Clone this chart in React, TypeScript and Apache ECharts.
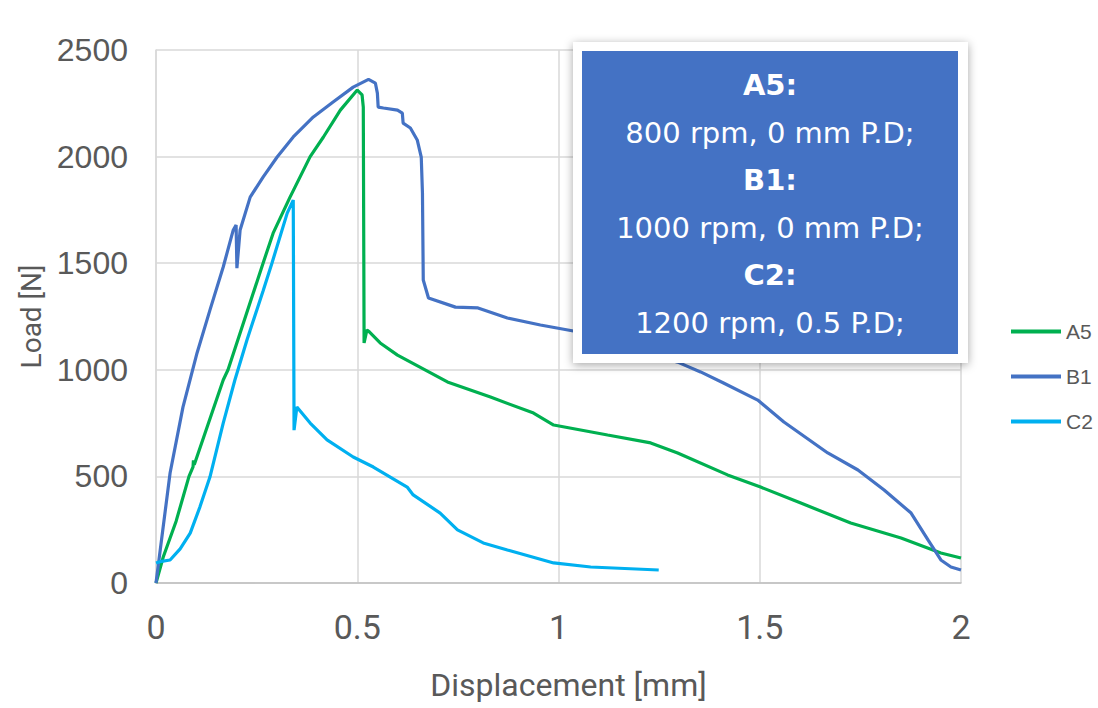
import React, { useEffect, useRef } from "react";
import * as echarts from "echarts";

const seriesNames = ["A5", "B1", "C2"];
const seriesColors = ["#00B050", "#4472C4", "#00B0F0"];

const a5Data: number[][] = [
  [0, 0], [0.018, 122], [0.05, 290], [0.082, 500], [0.092, 545], [0.093, 575], [0.095, 555],
  [0.167, 952], [0.179, 1000], [0.266, 1500], [0.291, 1641], [0.333, 1810], [0.383, 2000],
  [0.416, 2092], [0.458, 2218], [0.5, 2312], [0.512, 2289], [0.515, 2232], [0.517, 1126],
  [0.524, 1187], [0.53, 1178], [0.557, 1126], [0.6, 1069], [0.724, 943], [0.831, 872],
  [0.938, 797], [0.988, 741], [1.122, 694], [1.229, 657], [1.296, 610], [1.42, 507],
  [1.502, 450], [1.602, 375], [1.726, 281], [1.851, 211], [1.95, 141], [2.0, 117],
];

const b1Data: number[][] = [
  [0, 0], [0.035, 516], [0.067, 825], [0.102, 1079], [0.134, 1280], [0.167, 1482],
  [0.192, 1656], [0.199, 1679], [0.201, 1477], [0.209, 1656], [0.234, 1810], [0.266, 1904],
  [0.301, 1998], [0.341, 2092], [0.391, 2186], [0.44, 2256], [0.49, 2326], [0.528, 2362],
  [0.545, 2345], [0.55, 2298], [0.552, 2232], [0.565, 2228], [0.6, 2218], [0.612, 2204],
  [0.614, 2157], [0.632, 2134], [0.649, 2078], [0.659, 1998], [0.662, 1829], [0.664, 1421],
  [0.677, 1337], [0.744, 1294], [0.8, 1290], [0.873, 1243], [0.955, 1210], [1.037, 1182],
  [1.296, 1036], [1.353, 990], [1.41, 938], [1.495, 858], [1.56, 755], [1.669, 610],
  [1.744, 530], [1.809, 436], [1.876, 328], [1.918, 202], [1.95, 108], [1.975, 75], [2.0, 61],
];

const c2Data: number[][] = [
  [0, 94], [0.01, 100], [0.035, 108], [0.06, 160], [0.085, 234], [0.109, 356], [0.134, 497],
  [0.167, 750], [0.196, 952], [0.226, 1140], [0.266, 1370], [0.288, 1500], [0.326, 1735],
  [0.341, 1796], [0.343, 717], [0.35, 826], [0.383, 750], [0.425, 671], [0.49, 591],
  [0.54, 544], [0.624, 450], [0.639, 413], [0.706, 328], [0.749, 249], [0.813, 188],
  [0.873, 155], [0.988, 94], [1.08, 75], [1.249, 61],
];

const xTicks = [0, 0.5, 1, 1.5, 2];
const yTicks = [0, 500, 1000, 1500, 2000, 2500];

const boxLines = [
  { text: "A5:", bold: true },
  { text: "800 rpm, 0 mm P.D;", bold: false },
  { text: "B1:", bold: true },
  { text: "1000 rpm, 0 mm P.D;", bold: false },
  { text: "C2:", bold: true },
  { text: "1200 rpm, 0.5 P.D;", bold: false },
];

export default function App() {
  const ref = useRef<HTMLDivElement>(null);
  useEffect(() => {
    if (!ref.current) return;
    const chart = echarts.init(ref.current, null, { renderer: "svg" });
    const allData = [a5Data, b1Data, c2Data];
    const boxX = 582, boxY = 51, boxW = 376, boxH = 303;
    const textEls: any[] = boxLines.map((l, i) => ({
      type: "text",
      z: 102,
      style: {
        x: boxX + boxW / 2,
        y: 85 + i * 47.6,
        text: l.text,
        fill: "#ffffff",
        font: `${l.bold ? "bold " : ""}29px 'DejaVu Sans'`,
        textAlign: "center",
        textVerticalAlign: "middle",
      },
    }));
    chart.setOption({
      animation: false,
      backgroundColor: "#ffffff",
      grid: { left: 156, top: 50, width: 805, height: 533, containLabel: false },
      xAxis: {
        type: "value",
        min: xTicks[0],
        max: xTicks[xTicks.length - 1],
        interval: 0.5,
        name: "Displacement [mm]",
        nameLocation: "middle",
        nameGap: 86,
        nameTextStyle: { fontFamily: "Roboto", fontSize: 32, color: "#595959", padding: [0, 0, 0, 20] },
        axisLine: { show: true, lineStyle: { color: "#bfbfbf", width: 1.5 } },
        axisTick: { show: false },
        axisLabel: { fontFamily: "Roboto", fontSize: 34, color: "#595959", margin: 27, formatter: (v: number) => String(v) },
        splitLine: { show: true, lineStyle: { color: "#d9d9d9", width: 1.5 } },
      },
      yAxis: {
        type: "value",
        min: yTicks[0],
        max: yTicks[yTicks.length - 1],
        interval: 500,
        name: "Load [N]",
        nameLocation: "middle",
        nameGap: 93,
        nameTextStyle: { fontFamily: "Roboto", fontSize: 28, color: "#595959" },
        axisLine: { show: true, lineStyle: { color: "#d9d9d9", width: 1.5 } },
        axisTick: { show: false },
        axisLabel: { fontFamily: "Liberation Sans", fontSize: 32, color: "#595959", margin: 28, formatter: (v: number) => String(v) },
        splitLine: { show: true, lineStyle: { color: "#d9d9d9", width: 1.5 } },
      },
      legend: {
        orient: "vertical",
        left: 1006,
        top: 316,
        itemWidth: 50,
        itemHeight: 4,
        itemGap: 24,
        icon: "rect",
        textStyle: { fontFamily: "Liberation Sans", fontSize: 21, color: "#595959", padding: [0, 0, 0, 0] },
        data: seriesNames,
      },
      series: seriesNames.map((n, i) => ({
        name: n,
        type: "line",
        data: allData[i],
        showSymbol: false,
        symbol: "none",
        lineStyle: { color: seriesColors[i], width: 3.2 },
        itemStyle: { color: seriesColors[i] },
        z: 2 + i,
      })),
      graphic: [
        {
          type: "rect",
          z: 100,
          shape: { x: 573, y: 42, width: 395, height: 321 },
          style: { fill: "#ffffff", shadowBlur: 10, shadowColor: "rgba(0,0,0,0.35)", shadowOffsetY: 2 },
        },
        {
          type: "rect",
          z: 101,
          shape: { x: boxX, y: boxY, width: boxW, height: boxH },
          style: { fill: "#4472C4" },
        },
        ...textEls,
      ],
    });
    return () => chart.dispose();
  }, []);
  return (
    <div
      ref={ref}
      style={{ position: "fixed", left: 0, top: 0, width: 1098, height: 708 }}
    />
  );
}
